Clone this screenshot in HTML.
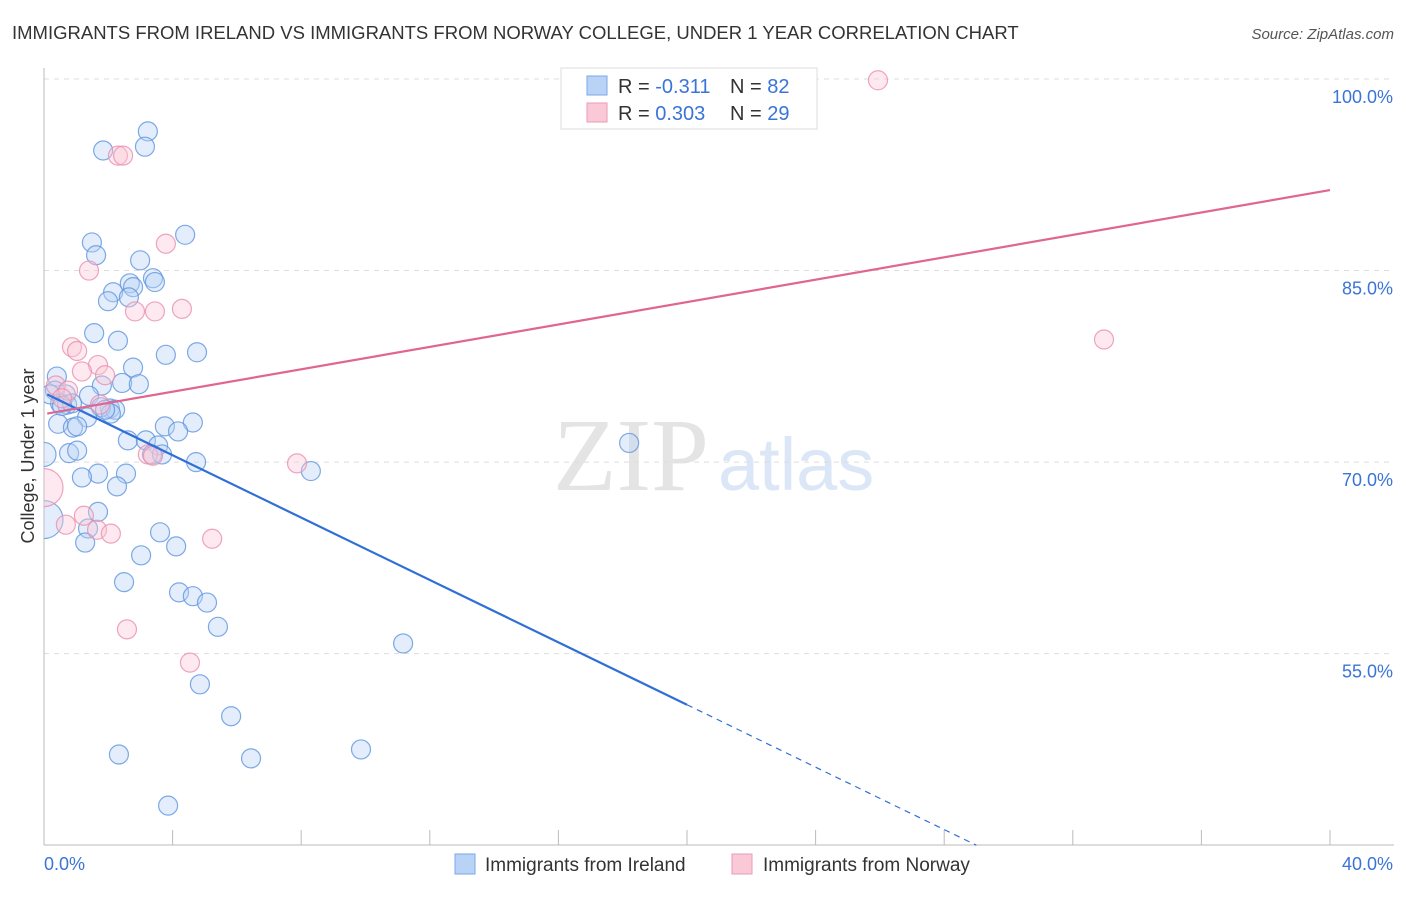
<!DOCTYPE html>
<html><head><meta charset="utf-8"><style>
body{margin:0;background:#fff;font-family:"Liberation Sans",sans-serif;}
</style></head><body>
<svg id="chart" width="1406" height="892" xmlns="http://www.w3.org/2000/svg" font-family="Liberation Sans, sans-serif">
<defs><clipPath id="plotclip"><rect x="44" y="60" width="1360" height="785"/></clipPath></defs>
<text x="12" y="39" font-size="18.5" fill="#333">IMMIGRANTS FROM IRELAND VS IMMIGRANTS FROM NORWAY COLLEGE, UNDER 1 YEAR CORRELATION CHART</text>
<text x="1394" y="39" font-size="15" fill="#555" font-style="italic" text-anchor="end">Source: ZipAtlas.com</text>
<text x="0" y="0" transform="translate(34,456) rotate(-90)" font-size="18" fill="#333" text-anchor="middle">College, Under 1 year</text>
<g>
<text x="553" y="490" font-size="104" fill="#e4e4e4" font-family="Liberation Serif, serif">ZIP</text>
<text x="718" y="490" font-size="74" fill="#dbe6f6" font-family="Liberation Sans, sans-serif">atlas</text>
</g>
<g id="grid"></g>
<g id="axes"></g>
<g id="pts" clip-path="url(#plotclip)"></g>
<g id="trends"></g>
<g>
<rect x="561" y="68" width="256" height="61" fill="#fff" stroke="#ddd"/>
<rect x="587" y="76" width="20" height="19" fill="#b8d3f5" stroke="#7aaae8"/>
<rect x="587" y="103" width="20" height="19" fill="#f9c9d8" stroke="#ee9ab5"/>
<text x="618" y="93" font-size="20" fill="#333">R = <tspan fill="#3a74d6">-0.311</tspan></text>
<text x="730" y="93" font-size="20" fill="#333">N = <tspan fill="#3a74d6">82</tspan></text>
<text x="618" y="120" font-size="20" fill="#333">R = <tspan fill="#3a74d6">0.303</tspan></text>
<text x="730" y="120" font-size="20" fill="#333">N = <tspan fill="#3a74d6">29</tspan></text>
</g>
<g>
<rect x="455" y="854" width="20" height="20" fill="#b8d3f5" stroke="#7aaae8"/>
<text x="485" y="871" font-size="19" fill="#333">Immigrants from Ireland</text>
<rect x="732" y="854" width="20" height="20" fill="#f9c9d8" stroke="#ee9ab5"/>
<text x="763" y="871" font-size="19" fill="#333">Immigrants from Norway</text>
</g>
</svg>
<script>
const yTicks=[100,85,70,55];
const yTickLabels=["100.0%","85.0%","70.0%","55.0%"];
const xEndLabels=["0.0%","40.0%"];
const irelandX=[3.23,1.84,3.14,4.39,1.49,1.62,2.99,2.67,3.39,3.45,2.15,1.99,2.77,2.64,1.56,2.30,3.79,4.76,2.77,0.40,1.80,2.43,2.95,0.34,0.68,1.40,0.50,0.72,0.87,2.05,2.21,1.77,2.08,1.34,4.63,3.76,4.17,0.44,0.90,1.03,2.61,3.17,3.55,0.78,1.03,3.36,3.67,4.73,0,1.68,2.55,1.18,8.30,18.2,2.27,1.68,1.37,1.28,3.61,4.11,3.02,2.49,4.20,4.63,5.07,5.41,11.17,4.85,5.82,2.33,6.44,9.86,3.86,0,0.19,0.56,1.90];
const irelandY=[95.9,94.4,94.7,87.8,87.2,86.2,85.8,84.0,84.4,84.1,83.3,82.6,83.7,82.9,80.1,79.5,78.4,78.6,77.4,76.7,76.0,76.2,76.1,75.6,75.3,75.2,74.6,74.5,74.6,74.2,74.1,74.3,73.8,73.5,73.1,72.8,72.4,73.0,72.7,72.8,71.7,71.7,71.3,70.7,70.9,70.6,70.6,70.0,70.6,69.1,69.1,68.8,69.3,71.5,68.1,66.1,64.8,63.7,64.5,63.4,62.7,60.6,59.8,59.5,59.0,57.1,55.8,52.6,50.1,47.1,46.8,47.5,43.1,65.5,75.3,74.4,74.1];
const irelandBig=[0,0,0,0,0,0,0,0,0,0,0,0,0,0,0,0,0,0,0,0,0,0,0,0,0,0,0,0,0,0,0,0,0,0,0,0,0,0,0,0,0,0,0,0,0,0,0,0,1,0,0,0,0,0,0,0,0,0,0,0,0,0,0,0,0,0,0,0,0,0,0,0,0,2,0,0,0];
const norwayX=[25.94,2.30,2.46,3.79,1.40,4.29,3.45,2.83,0.87,1.03,1.68,1.18,1.90,0.37,0.75,0.56,1.74,3.23,3.39,7.87,32.97,0,1.24,0.68,1.65,2.08,5.23,2.58,4.54];
const norwayY=[99.9,94.0,94.0,87.1,85.0,82.0,81.8,81.8,79.0,78.7,77.6,77.1,76.8,76.0,75.6,75.0,74.5,70.6,70.5,69.9,79.6,68.0,65.8,65.1,64.7,64.4,64.0,56.9,54.3];
const norwayBig=[0,0,0,0,0,0,0,0,0,0,0,0,0,0,0,0,0,0,0,0,0,2,0,0,0,0,0,0,0];
const irelandTrend=[[0.1,75.3],[20.0,51.0],[29.0,40.0]];
const norwayTrend=[[0.1,73.8],[40,91.3]];

const NS="http://www.w3.org/2000/svg";
const X=v=>44+v*32.15;
const Y=v=>79+(100-v)*12.77;
function mk(tag,attrs,parent){const e=document.createElementNS(NS,tag);for(const k in attrs)e.setAttribute(k,attrs[k]);parent.appendChild(e);return e;}
const grid=document.getElementById('grid'),axes=document.getElementById('axes'),pts=document.getElementById('pts'),tr=document.getElementById('trends');
yTicks.forEach((t,i)=>{
 const l=mk('line',{x1:44,x2:1394,y1:Y(t),y2:Y(t),stroke:'#ddd','stroke-dasharray':'5,5'},grid);
 
 
 const tx=mk('text',{x:1393,y:Y(t)+24,'font-size':18,fill:'#3a74d6','text-anchor':'end'},grid);
 tx.textContent=yTickLabels[i];
 
 
});
const ya=mk('line',{x1:44,x2:44,y1:68,y2:845,stroke:'#bbb'},axes);


const xa=mk('line',{x1:44,x2:1394,y1:845,y2:845,stroke:'#bbb'},axes);


for(let v=4;v<=40;v+=4){
 const tk=mk('line',{x1:X(v),x2:X(v),y1:830,y2:845,stroke:'#bbb'},axes);
 
 
}
[[0,'start'],[40,'end']].forEach((p,i)=>{
 const tx=mk('text',{x:X(p[0])+(i?63:0),y:870,'font-size':18,fill:'#3a74d6','text-anchor':p[1]},axes);
 tx.textContent=xEndLabels[i];
 
 
});
function drawPts(xs,ys,big,fill,stroke,name){
 xs.forEach((x,i)=>{
  const r=big[i]===2?19:big[i]===1?12:9.5;
  const c=mk('circle',{cx:X(x),cy:Y(ys[i]),r:r,fill:fill,'fill-opacity':0.4,stroke:stroke,'stroke-opacity':0.8,'stroke-width':1.2},pts);
  
  
 });
}
drawPts(irelandX,irelandY,irelandBig,'#b8d3f5','#5e95e0','ireland-point');
drawPts(norwayX,norwayY,norwayBig,'#f9c9d8','#ea8fad','norway-point');
const b1=mk('line',{x1:X(irelandTrend[0][0]),y1:Y(irelandTrend[0][1]),x2:X(irelandTrend[1][0]),y2:Y(irelandTrend[1][1]),stroke:'#2f6fd6','stroke-width':2.2},tr);


const b2=mk('line',{x1:X(irelandTrend[1][0]),y1:Y(irelandTrend[1][1]),x2:X(irelandTrend[2][0]),y2:Y(irelandTrend[2][1]),stroke:'#2f6fd6','stroke-width':1.2,'stroke-dasharray':'6,5'},tr);


const p1=mk('line',{x1:X(norwayTrend[0][0]),y1:Y(norwayTrend[0][1]),x2:X(norwayTrend[1][0]),y2:Y(norwayTrend[1][1]),stroke:'#e06690','stroke-width':2.2},tr);


</script>
</body></html>
